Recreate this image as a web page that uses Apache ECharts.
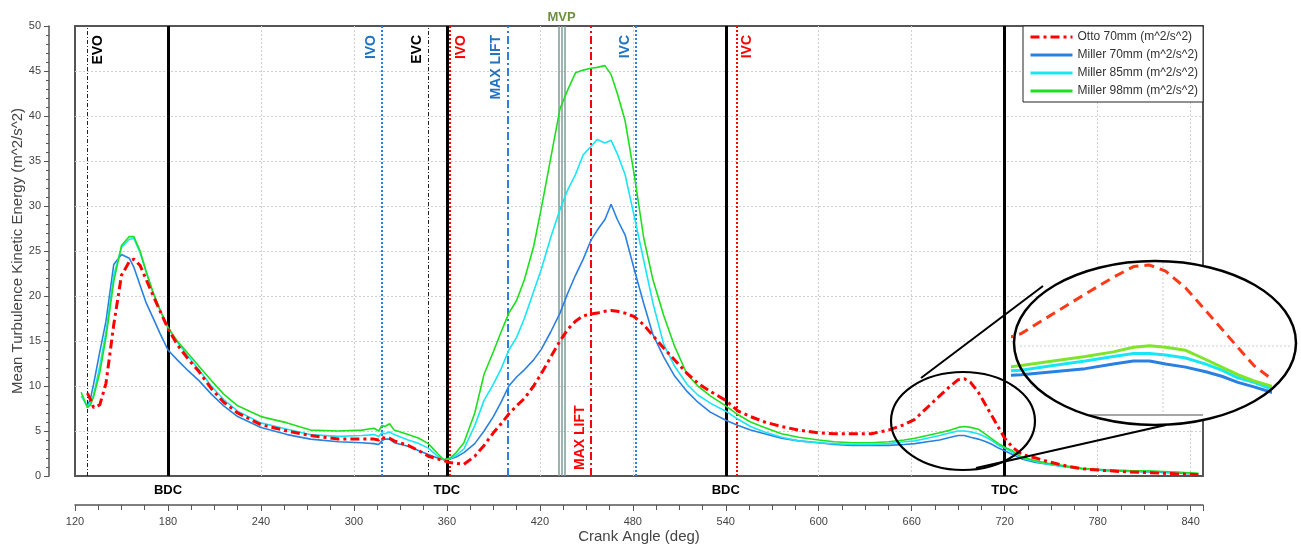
<!DOCTYPE html>
<html>
<head>
<meta charset="utf-8">
<script src="https://cdn.jsdelivr.net/npm/echarts@6/dist/echarts.min.js"></script>
<style>
html, body { margin: 0; padding: 0; background: #fff; }
#chart { width: 1301px; height: 545px; }
</style>
</head>
<body>
<div id="chart"></div>
<script>
// crank angle (deg)
const angles = [124, 128, 130, 132, 136, 140, 145, 150, 155, 158, 162, 166, 170, 175, 180, 186, 193, 200, 208, 216,
  225, 240, 257, 272, 290, 305, 313, 316, 318, 320, 323, 326, 335, 342, 348, 354, 358, 362, 366, 371,
  378, 384, 390, 395, 400, 405, 410, 416, 421, 427, 433, 438, 443, 448, 453, 457, 462, 466, 470, 475,
  481, 487, 493, 500, 507, 515, 522, 530, 540, 548, 556, 565, 576, 587, 600, 610, 622, 634, 645, 655,
  662, 670, 678, 685, 690, 694, 698, 703, 708, 712, 716, 720, 725, 731, 740, 748, 760, 770, 785, 800,
  815, 830, 845];

const otto70 = [null, 9.2, 8.5, 7.6, 7.9, 10.3, 16.8, 22.3, 23.8, 24.1, 23.4, 21.8, 20.2, 18.3, 16.4, 14.6, 13.0, 11.6, 9.7, 8.2,
  7.0, 5.7, 5.0, 4.5, 4.1, 4.1, 4.1, 4.0, 4.3, 4.2, 4.2, 3.9, 3.4, 2.8, 2.2, 1.9, 1.7, 1.5, 1.4, 1.3,
  2.2, 3.4, 4.8, 5.8, 6.9, 7.8, 8.6, 10.0, 11.4, 13.2, 15.0, 16.3, 17.2, 17.8, 18.0, 18.1, 18.3, 18.4, 18.3, 18.1,
  17.7, 16.8, 15.6, 14.2, 12.9, 11.4, 10.3, 9.4, 8.4, 7.2, 6.6, 6.0, 5.5, 5.1, 4.8, 4.7, 4.7, 4.7, 5.1, 5.7,
  6.3, 7.6, 8.9, 10.0, 10.7, 10.8, 10.4, 9.3, 7.8, 6.6, 5.4, 4.2, 3.2, 2.4, 2.0, 1.6, 1.1, 0.8, 0.6, 0.45,
  0.35, 0.25, 0.15];

const miller70 = [null, 7.8, 8.6, 10.2, 13.8, 17.2, 23.5, 24.6, 24.2, 23.2, 21.2, 19.2, 17.7, 15.8, 14.0, 12.9, 11.7, 10.6, 9.1, 7.8,
  6.6, 5.4, 4.6, 4.1, 3.8, 3.7, 3.6, 3.5, 3.9, 4.1, 4.1, 3.7, 3.3, 2.8, 2.4, 2.0, 1.8, 1.9, 2.1, 2.6,
  3.6, 5.0, 6.6, 8.2, 10.0, 11.0, 11.8, 12.9, 14.1, 16.0, 18.1, 20.3, 22.3, 24.1, 26.2, 27.3, 28.5, 30.2, 28.5, 26.8,
  22.9, 19.2, 15.7, 13.2, 11.1, 9.4, 8.2, 7.1, 6.2, 5.6, 5.1, 4.7, 4.2, 3.9, 3.7, 3.5, 3.4, 3.4, 3.4, 3.5,
  3.6, 3.8, 4.0, 4.3, 4.5, 4.5, 4.3, 4.1, 3.8, 3.5, 3.1, 2.8, 2.4, 1.9, 1.5, 1.3, 1.0, 0.8, 0.6, 0.5,
  0.45, 0.35, 0.2];

const miller85 = [8.9, 7.7, 8.2, 9.0, 12.2, 16.0, 22.3, 25.4, 26.3, 26.4, 24.8, 22.6, 20.5, 18.4, 16.5, 14.9, 13.3, 11.8, 10.0, 8.5,
  7.2, 5.9, 5.2, 4.6, 4.4, 4.5, 4.6, 4.4, 4.8, 4.7, 4.9, 4.6, 4.0, 3.6, 3.1, 2.2, 1.8, 1.9, 2.3, 3.0,
  5.6, 8.4, 10.2, 11.9, 14.0, 15.4, 17.5, 20.5, 23.0, 26.5, 29.6, 31.8, 33.5, 35.7, 36.6, 37.4, 37.0, 37.3, 35.8, 33.5,
  28.8, 24.0, 19.2, 14.6, 12.2, 10.2, 9.0, 8.1, 7.2, 6.3, 5.5, 4.9, 4.3, 3.9, 3.7, 3.6, 3.5, 3.5, 3.6, 3.8,
  3.9, 4.2, 4.5, 4.8, 5.0, 5.0, 4.9, 4.7, 4.3, 3.9, 3.4, 3.1, 2.6, 2.0, 1.6, 1.3, 1.0, 0.8, 0.65, 0.55,
  0.5, 0.4, 0.25];

const miller98 = [9.3, 7.6, 7.9, 8.8, 11.5, 15.4, 21.6, 25.6, 26.6, 26.6, 25.0, 22.7, 20.6, 18.4, 16.5, 15.0, 13.6, 12.2, 10.6, 9.1,
  7.8, 6.6, 5.9, 5.1, 5.0, 5.1, 5.3, 5.0, 5.6, 5.5, 5.8, 5.1, 4.6, 4.2, 3.6, 2.5, 1.8, 2.0, 2.6, 3.7,
  7.0, 11.3, 13.8, 16.0, 18.1, 19.5, 21.8, 25.5, 29.8, 35.3, 40.8, 42.9, 44.8, 45.1, 45.3, 45.4, 45.6, 44.6, 42.5, 39.5,
  33.4, 26.5, 21.8, 17.8, 14.4, 11.3, 10.0, 8.9, 7.8, 6.8, 6.0, 5.4, 4.7, 4.3, 4.0, 3.8, 3.7, 3.7, 3.8, 4.0,
  4.2, 4.5, 4.8, 5.1, 5.4, 5.5, 5.4, 5.2, 4.6, 4.1, 3.6, 3.2, 2.8, 2.1, 1.7, 1.4, 1.1, 0.85, 0.7, 0.6,
  0.55, 0.45, 0.3];

const seriesNames = ['Otto 70mm (m^2/s^2)', 'Miller 70mm (m^2/s^2)', 'Miller 85mm (m^2/s^2)', 'Miller 98mm (m^2/s^2)'];

// dead centres
const dcAngles = [180, 360, 540, 720];
const dcNames = ['BDC', 'TDC', 'BDC', 'TDC'];
// exhaust valve
const exhNames = ['EVO', 'EVC'];
const exhAngles = [128, 348];
// intake valve, Miller
const millerNames = ['IVO', 'MAX LIFT', 'IVC'];
const millerAngles = [318, 399, 482];
// intake valve, Otto
const ottoNames = ['IVO', 'MAX LIFT', 'IVC'];
const ottoAngles = [362, 453, 547];
// max valve position band
const mvpAngles = [432, 434, 436];

const FONT = 'Liberation Sans, Arial, sans-serif';
const BLUE = '#2a80e0';
const RED = '#ff0000';

function pairs(vals) {
  return angles.map((a, i) => [a, vals[i]]);
}

function evLabel(text, color, pos) {
  return {
    show: true, formatter: text, position: pos, color: color,
    fontWeight: 'bold', fontSize: 14, fontFamily: FONT,
    distance: pos === 'insideStartTop' ? [6, 4] : [9, 4]
  };
}

let marks = [];
dcAngles.forEach((a, i) => {
  marks.push({
    xAxis: a,
    lineStyle: { color: '#000', width: 3, type: 'solid' },
    label: { show: true, formatter: dcNames[i], position: 'start', color: '#000', fontWeight: 'bold', fontSize: 13, fontFamily: FONT, distance: 8 }
  });
});
exhAngles.forEach((a, i) => {
  marks.push({
    xAxis: a,
    lineStyle: { color: '#222', width: 1, type: [4, 2, 1, 2] },
    label: evLabel(exhNames[i], '#000', i === 0 ? 'insideEndBottom' : 'insideEndTop')
  });
});
millerAngles.forEach((a, i) => {
  marks.push({
    xAxis: a,
    lineStyle: { color: BLUE, width: 2, type: i === 1 ? [8, 3, 2, 3] : [2, 2] },
    label: evLabel(millerNames[i], '#1f73c0', 'insideEndTop')
  });
});
ottoAngles.forEach((a, i) => {
  marks.push({
    xAxis: a,
    lineStyle: { color: RED, width: 2, type: i === 1 ? [8, 3, 2, 3] : [2, 2] },
    label: evLabel(ottoNames[i], RED, i === 1 ? 'insideStartTop' : 'insideEndBottom')
  });
});
mvpAngles.forEach((a, i) => {
  marks.push({
    xAxis: a,
    lineStyle: { color: '#7a9e96', width: 1.5, type: 'solid' },
    label: i === 1
      ? { show: true, formatter: 'MVP', position: 'end', color: '#6e8f3c', fontWeight: 'bold', fontSize: 13, fontFamily: FONT, distance: 2 }
      : { show: false }
  });
});

const chart = echarts.init(document.getElementById('chart'));

const option = {
  animation: false,
  backgroundColor: '#fff',
  textStyle: { fontFamily: FONT },
  legend: {
    data: seriesNames,
    orient: 'vertical',
    left: 1023,
    top: 26,
    padding: [5, 5, 5, 6],
    itemGap: 6,
    itemWidth: 42,
    itemHeight: 12,
    itemStyle: { opacity: 0 },
    lineStyle: { width: 3 },
    backgroundColor: '#fff',
    borderColor: '#222',
    borderWidth: 1,
    textStyle: { fontSize: 12, color: '#333', fontFamily: FONT }
  },
  grid: [
    { left: 75, top: 26, width: 1128, height: 450, outerBoundsMode: 'none', show: true, borderColor: '#555', borderWidth: 2, backgroundColor: 'transparent' },
    { left: 1013, top: 262, width: 257, height: 163, outerBoundsMode: 'none', show: false }
  ],
  xAxis: [
    {
      type: 'value', gridIndex: 0, min: 120, max: 848, interval: 60,
      name: 'Crank Angle (deg)', nameLocation: 'middle', nameGap: 24, nameMoveOverlap: false,
      nameTextStyle: { fontSize: 15, color: '#444' },
      offset: 29,
      axisLine: { show: true, onZero: false, lineStyle: { color: '#555', width: 1.5 } },
      axisTick: { show: true, length: 6, lineStyle: { color: '#555' } },
      minorTick: { show: true, splitNumber: 4, length: 5, lineStyle: { color: '#555' } },
      axisLabel: { fontSize: 11, color: '#444', margin: 11, showMaxLabel: false },
      splitLine: { show: true, showMinLine: false, showMaxLine: false, lineStyle: { color: '#d0d0d0', type: [2, 2] } }
    },
    { type: 'value', gridIndex: 1, min: 660, max: 724, show: false, splitLine: { show: false } }
  ],
  yAxis: [
    {
      type: 'value', gridIndex: 0, min: 0, max: 50, interval: 5,
      name: 'Mean Turbulence Kinetic Energy (m^2/s^2)', nameLocation: 'middle', nameGap: 24, nameMoveOverlap: false,
      nameTextStyle: { fontSize: 15, color: '#444' },
      offset: 26,
      axisLine: { show: true, lineStyle: { color: '#555', width: 1.5 } },
      axisTick: { show: true, length: 5, lineStyle: { color: '#555' } },
      minorTick: { show: true, splitNumber: 5, length: 3, lineStyle: { color: '#555' } },
      axisLabel: { fontSize: 11, color: '#444', margin: 8 },
      splitLine: { show: true, showMinLine: false, showMaxLine: false, lineStyle: { color: '#d0d0d0', type: [2, 2] } }
    },
    { type: 'value', gridIndex: 1, min: 0.3, max: 11, show: false, splitLine: { show: false } }
  ],
  series: [
    {
      name: seriesNames[1], type: 'line', data: pairs(miller70), symbol: 'none',
      lineStyle: { color: BLUE, width: 1.6 }, itemStyle: { color: BLUE }, z: 3
    },
    {
      name: seriesNames[2], type: 'line', data: pairs(miller85), symbol: 'none',
      lineStyle: { color: '#19e6f5', width: 1.6 }, itemStyle: { color: '#19e6f5' }, z: 3
    },
    {
      name: seriesNames[3], type: 'line', data: pairs(miller98), symbol: 'none',
      lineStyle: { color: '#1ee01e', width: 1.6 }, itemStyle: { color: '#1ee01e' }, z: 3
    },
    {
      name: seriesNames[0], type: 'line', data: pairs(otto70), symbol: 'none',
      lineStyle: { color: RED, width: 3, type: [9, 4, 3, 4] }, itemStyle: { color: RED }, z: 4,
      markLine: { silent: true, symbol: ['none', 'none'], animation: false, data: marks, z: 2 }
    },
    // magnified view inside the ellipse
    {
      name: 'zoom-m70', type: 'line', xAxisIndex: 1, yAxisIndex: 1, data: pairs(miller70), symbol: 'none',
      lineStyle: { color: BLUE, width: 3 }, z: 6
    },
    {
      name: 'zoom-m85', type: 'line', xAxisIndex: 1, yAxisIndex: 1, data: pairs(miller85), symbol: 'none',
      lineStyle: { color: '#19e6f5', width: 3 }, z: 6
    },
    {
      name: 'zoom-m98', type: 'line', xAxisIndex: 1, yAxisIndex: 1, data: pairs(miller98), symbol: 'none',
      lineStyle: { color: '#7ee62a', width: 3 }, z: 6
    },
    {
      name: 'zoom-otto', type: 'line', xAxisIndex: 1, yAxisIndex: 1, data: pairs(otto70), symbol: 'none',
      lineStyle: { color: '#ff3a1a', width: 3, type: [10, 6] }, z: 6
    }
  ],
  graphic: [
    { type: 'ellipse', z: 5, shape: { cx: 1155, cy: 343, rx: 141, ry: 82 }, style: { fill: '#fff', stroke: null } },
    { type: 'line', z: 5, shape: { x1: 1020, y1: 346, x2: 1290, y2: 346 }, style: { stroke: '#ccc', lineWidth: 1, lineDash: [2, 2] } },
    { type: 'line', z: 5, shape: { x1: 1163, y1: 262, x2: 1163, y2: 415 }, style: { stroke: '#ccc', lineWidth: 1, lineDash: [2, 2] } },
    { type: 'line', z: 5, shape: { x1: 1090, y1: 415, x2: 1203, y2: 415 }, style: { stroke: '#888', lineWidth: 1.5 } },
    { type: 'ellipse', z: 20, shape: { cx: 1155, cy: 343, rx: 141, ry: 82 }, style: { fill: null, stroke: '#000', lineWidth: 2.5 } },
    { type: 'ellipse', z: 20, shape: { cx: 963, cy: 421, rx: 72, ry: 49 }, style: { fill: null, stroke: '#000', lineWidth: 2.2 } },
    { type: 'line', z: 20, shape: { x1: 921, y1: 378, x2: 1043, y2: 286 }, style: { stroke: '#000', lineWidth: 2 } },
    { type: 'line', z: 20, shape: { x1: 976, y1: 468, x2: 1166, y2: 425 }, style: { stroke: '#000', lineWidth: 2 } }
  ]
};

chart.setOption(option);
</script>
</body>
</html>
